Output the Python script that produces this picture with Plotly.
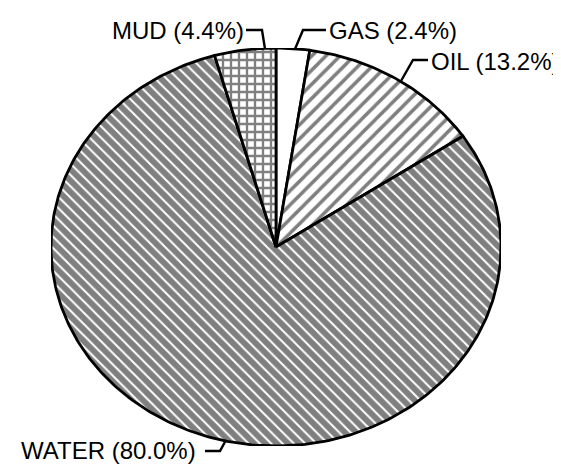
import numpy as np
import plotly.graph_objects as go

# ---- data ----
labels = ["GAS", "OIL", "WATER", "MUD"]
shares = [2.4, 13.2, 80.0, 4.4]          # percent
patterns = ["", "/", "\\", "+"]
pattern_sizes = [8, 10, 8, 8]
pattern_solidity = [0.2, 0.35, 0.75, 0.5]

W, H = 561, 465
# pie box in pixels (elliptical, as in the scanned original)
PX0, PX1 = 43, 493
PY0, PY1 = 40, 438


def px(x):
    return x / W


def py(y):
    return 1 - y / H


fig = go.Figure()

cum = np.concatenate([[0.0], np.cumsum(shares)])
for i, lab in enumerate(labels):
    a0 = np.deg2rad(cum[i] * 3.6)
    a1 = np.deg2rad(cum[i + 1] * 3.6)
    t = np.linspace(a0, a1, max(8, int(shares[i] * 4)))
    xs = np.concatenate([[0], np.sin(t), [0]])
    ys = np.concatenate([[0], np.cos(t), [0]])
    kw = {}
    if patterns[i]:
        kw["fillpattern"] = dict(shape=patterns[i], fgcolor="black", bgcolor="white",
                                 size=pattern_sizes[i], solidity=pattern_solidity[i])
    fig.add_trace(go.Scatter(
        x=xs, y=ys, mode="lines", fill="toself", fillcolor="white",
        line=dict(color="black", width=2.8), name=lab, hoverinfo="name",
        showlegend=False, **kw))

fig.update_xaxes(range=[-1, 1], domain=[px(PX0), px(PX1)], visible=False, fixedrange=True)
fig.update_yaxes(range=[-1, 1], domain=[py(PY1), py(PY0)], visible=False, fixedrange=True)

font = dict(family="Liberation Sans, Arial, sans-serif", size=24, color="black")

# label placement (pixels): text left x, text centre y, leader path
label_pos = {
    "MUD": (103, 23, [(238, 22), (254, 22), (257, 41)]),
    "GAS": (320, 22, [(318, 22), (295, 22), (287, 41)]),
    "OIL": (422, 54, [(420, 52), (405, 52), (393, 73)]),
    "WATER": (12, 442, [(197, 443), (212, 443), (218, 432)]),
}

annotations = []
shapes = []
for lab, val in zip(labels, shares):
    tx, ty, path = label_pos[lab]
    annotations.append(dict(
        x=px(tx), y=py(ty), xref="paper", yref="paper", xanchor="left", yanchor="middle",
        text=f"{lab} ({val:.1f}%)", showarrow=False, font=font, borderpad=0))
    d = "M " + " L ".join(f"{px(a)},{py(b)}" for a, b in path)
    shapes.append(dict(type="path", path=d, xref="paper", yref="paper",
                       line=dict(color="black", width=2.4)))

fig.update_layout(
    width=W, height=H, margin=dict(l=0, r=0, t=0, b=0),
    paper_bgcolor="white", plot_bgcolor="white",
    annotations=annotations, shapes=shapes, showlegend=False,
)

fig.write_html("out.html")
